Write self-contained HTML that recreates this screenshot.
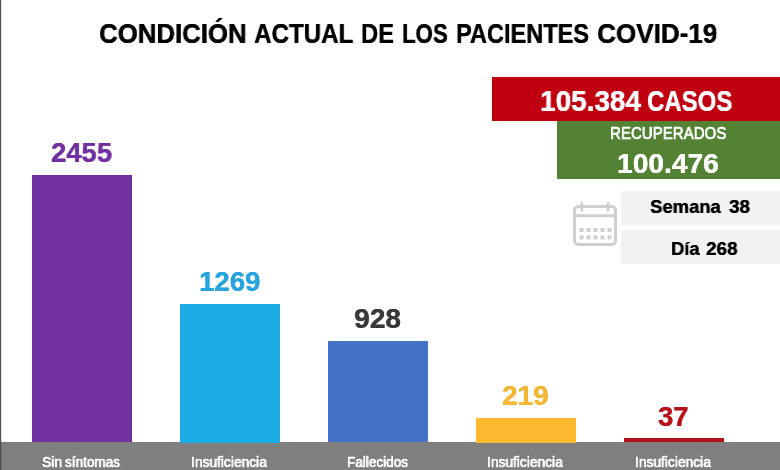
<!DOCTYPE html>
<html lang="es"><head><meta charset="utf-8"><title>Condición actual de los pacientes COVID-19</title>
<style>
html,body{margin:0;padding:0;background:#fff}
body{width:780px;height:470px;position:relative;overflow:hidden;font-family:"Liberation Sans",sans-serif}
.t{will-change:transform;position:absolute;white-space:nowrap;line-height:1;transform-origin:0 0;font-family:"Liberation Sans",sans-serif}
.b{position:absolute}
</style></head><body>
<div class="b" style="left:0;top:442px;width:780px;height:28px;background:#7f7f7f"></div>
<div class="b" style="left:0;top:0;width:1px;height:470px;background:#525252"></div>
<div class="b" style="left:1px;top:0;width:1px;height:470px;background:rgba(0,0,0,0.13)"></div>
<div class="b" style="left:31.8px;top:174.7px;width:100.3px;height:267.8px;background:#7030a0"></div>
<div class="b" style="left:179.5px;top:303.5px;width:100.5px;height:139px;background:#1cade4"></div>
<div class="b" style="left:328.2px;top:341.3px;width:100.3px;height:101.2px;background:#4472c4"></div>
<div class="b" style="left:475.6px;top:418px;width:100.4px;height:24.5px;background:#fcb92f"></div>
<div class="b" style="left:623.5px;top:438.3px;width:100.4px;height:4.2px;background:#b5101a"></div>
<div class="b" style="left:557px;top:118px;width:223px;height:61px;background:#548235"></div>
<div class="b" style="left:492.3px;top:77.3px;width:288px;height:44.2px;background:#c00010"></div>
<div class="b" style="left:621px;top:190.5px;width:159px;height:34.2px;background:#f2f2f2"></div>
<div class="b" style="left:621px;top:229.7px;width:159px;height:34.2px;background:#f2f2f2"></div>
<svg class="b" style="left:570px;top:198px" width="52" height="52" viewBox="0 0 52 52">
<g fill="none" stroke="#cfcfcf" stroke-width="3">
<rect x="4.5" y="8.5" width="41" height="38" rx="4" ry="4"/>
<line x1="4.5" y1="17.8" x2="45.5" y2="17.8"/>
</g>
<g stroke="#cfcfcf" stroke-width="2.6" stroke-linecap="round">
<line x1="11.9" y1="5" x2="11.9" y2="12.5"/><line x1="38" y1="5" x2="38" y2="12.5"/>
</g>
<g fill="#cfcfcf">
<rect x="9.5" y="29.9" width="4" height="4"/><rect x="16.5" y="29.9" width="4" height="4"/><rect x="23.5" y="29.9" width="4" height="4"/><rect x="30.5" y="29.9" width="4" height="4"/><rect x="37.5" y="29.9" width="4" height="4"/>
<rect x="9.5" y="37.4" width="4" height="4"/><rect x="16.5" y="37.4" width="4" height="4"/><rect x="23.5" y="37.4" width="4" height="4"/><rect x="30.5" y="37.4" width="4" height="4"/><rect x="37.5" y="37.4" width="4" height="4"/>
</g></svg>
<div class="t" style="left:99.48px;top:19.9px;font-size:28.0px;font-weight:700;color:#000000;-webkit-text-stroke:0.2px #000000;text-shadow:0.25px 0 0 #000000;transform:scaleX(0.9203)">CONDICIÓN</div>
<div class="t" style="left:253.54px;top:19.9px;font-size:28.0px;font-weight:700;color:#000000;-webkit-text-stroke:0.2px #000000;text-shadow:0.25px 0 0 #000000;transform:scaleX(0.8623)">ACTUAL</div>
<div class="t" style="left:361.01px;top:19.9px;font-size:28.0px;font-weight:700;color:#000000;-webkit-text-stroke:0.2px #000000;text-shadow:0.25px 0 0 #000000;transform:scaleX(0.8444)">DE</div>
<div class="t" style="left:402.31px;top:19.9px;font-size:28.0px;font-weight:700;color:#000000;-webkit-text-stroke:0.2px #000000;text-shadow:0.25px 0 0 #000000;transform:scaleX(0.7927)">LOS</div>
<div class="t" style="left:455.82px;top:19.9px;font-size:28.0px;font-weight:700;color:#000000;-webkit-text-stroke:0.2px #000000;text-shadow:0.25px 0 0 #000000;transform:scaleX(0.8404)">PACIENTES</div>
<div class="t" style="left:597.37px;top:19.9px;font-size:28.0px;font-weight:700;color:#000000;-webkit-text-stroke:0.2px #000000;text-shadow:0.25px 0 0 #000000;transform:scaleX(0.9313)">COVID-19</div>
<div class="t" style="left:51.01px;top:138.7px;font-size:27.5px;font-weight:700;color:#7030a0;-webkit-text-stroke:0.2px #7030a0;text-shadow:0.25px 0 0 #7030a0;transform:scaleX(0.995)">2455</div>
<div class="t" style="left:198.59px;top:267.7px;font-size:27.5px;font-weight:700;color:#27a4de;-webkit-text-stroke:0.2px #27a4de;text-shadow:0.25px 0 0 #27a4de;transform:scaleX(1.0034)">1269</div>
<div class="t" style="left:354.08px;top:305.4px;font-size:27.5px;font-weight:700;color:#3b3838;-webkit-text-stroke:0.2px #3b3838;text-shadow:0.25px 0 0 #3b3838;transform:scaleX(1.0227)">928</div>
<div class="t" style="left:502.28px;top:382.3px;font-size:27.5px;font-weight:700;color:#f2b734;-webkit-text-stroke:0.2px #f2b734;text-shadow:0.25px 0 0 #f2b734;transform:scaleX(1.0159)">219</div>
<div class="t" style="left:658.21px;top:402.9px;font-size:27.5px;font-weight:700;color:#b5121b;-webkit-text-stroke:0.2px #b5121b;text-shadow:0.25px 0 0 #b5121b;transform:scaleX(0.9931)">37</div>
<div class="t" style="left:539.81px;top:85.8px;font-size:29.5px;font-weight:700;color:#ffffff;-webkit-text-stroke:0.2px #ffffff;text-shadow:0.25px 0 0 #ffffff;transform:scaleX(0.9457)">105.384</div>
<div class="t" style="left:647.19px;top:85.8px;font-size:29.5px;font-weight:700;color:#ffffff;-webkit-text-stroke:0.2px #ffffff;text-shadow:0.25px 0 0 #ffffff;transform:scaleX(0.8126)">CASOS</div>
<div class="t" style="left:610.09px;top:125.3px;font-size:16.5px;font-weight:400;color:#ffffff;-webkit-text-stroke:0.3px #ffffff;text-shadow:0.25px 0 0 #ffffff,-0.25px 0 0 #ffffff;transform:scaleX(0.9127)">RECUPERADOS</div>
<div class="t" style="left:616.55px;top:150.0px;font-size:27.5px;font-weight:700;color:#ffffff;-webkit-text-stroke:0.2px #ffffff;text-shadow:0.25px 0 0 #ffffff;transform:scaleX(1.0227)">100.476</div>
<div class="t" style="left:650.43px;top:196.9px;font-size:19.0px;font-weight:700;color:#000000;-webkit-text-stroke:0.2px #000000;text-shadow:0.25px 0 0 #000000;transform:scaleX(0.9694)">Semana</div>
<div class="t" style="left:728.8px;top:196.9px;font-size:19.0px;font-weight:700;color:#000000;-webkit-text-stroke:0.2px #000000;text-shadow:0.25px 0 0 #000000;transform:scaleX(0.9857)">38</div>
<div class="t" style="left:670.54px;top:238.7px;font-size:19.0px;font-weight:700;color:#000000;-webkit-text-stroke:0.2px #000000;text-shadow:0.25px 0 0 #000000;transform:scaleX(0.9621)">Día</div>
<div class="t" style="left:705.9px;top:238.7px;font-size:19.0px;font-weight:700;color:#000000;-webkit-text-stroke:0.2px #000000;text-shadow:0.25px 0 0 #000000;transform:scaleX(0.9875)">268</div>
<div class="t" style="left:41.97px;top:454.0px;font-size:15.0px;font-weight:400;color:#ffffff;-webkit-text-stroke:0.3px #ffffff;text-shadow:0.25px 0 0 #ffffff,-0.25px 0 0 #ffffff;transform:scaleX(0.93)">Sin</div>
<div class="t" style="left:65.2px;top:454.0px;font-size:15.0px;font-weight:400;color:#ffffff;-webkit-text-stroke:0.3px #ffffff;text-shadow:0.25px 0 0 #ffffff,-0.25px 0 0 #ffffff;transform:scaleX(0.9033)">síntomas</div>
<div class="t" style="left:191.38px;top:454.0px;font-size:15.0px;font-weight:400;color:#ffffff;-webkit-text-stroke:0.3px #ffffff;text-shadow:0.25px 0 0 #ffffff,-0.25px 0 0 #ffffff;transform:scaleX(0.9195)">Insuficiencia</div>
<div class="t" style="left:346.8px;top:454.0px;font-size:15.0px;font-weight:400;color:#ffffff;-webkit-text-stroke:0.3px #ffffff;text-shadow:0.25px 0 0 #ffffff,-0.25px 0 0 #ffffff;transform:scaleX(0.903)">Fallecidos</div>
<div class="t" style="left:487.38px;top:454.0px;font-size:15.0px;font-weight:400;color:#ffffff;-webkit-text-stroke:0.3px #ffffff;text-shadow:0.25px 0 0 #ffffff,-0.25px 0 0 #ffffff;transform:scaleX(0.9183)">Insuficiencia</div>
<div class="t" style="left:634.98px;top:454.0px;font-size:15.0px;font-weight:400;color:#ffffff;-webkit-text-stroke:0.3px #ffffff;text-shadow:0.25px 0 0 #ffffff,-0.25px 0 0 #ffffff;transform:scaleX(0.9195)">Insuficiencia</div>
</body></html>
